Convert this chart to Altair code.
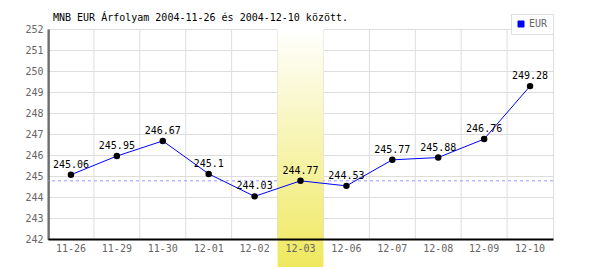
import altair as alt
import pandas as pd

dates = ["11-26", "11-29", "11-30", "12-01", "12-02", "12-03",
         "12-06", "12-07", "12-08", "12-09", "12-10"]
values = [245.06, 245.95, 246.67, 245.1, 244.03, 244.77,
          244.53, 245.77, 245.88, 246.76, 249.28]
highlight_date = "12-03"
ref_value = 244.77
y_ticks = list(range(242, 253))
title_text = "MNB EUR Árfolyam 2004-11-26 és 2004-12-10 között."
series_name = "EUR"

FONT = "DejaVu Sans Mono"

df = pd.DataFrame({"date": dates, "value": values, "series": series_name})
hl = pd.DataFrame({"date": [highlight_date]})
ref = pd.DataFrame({"v": [ref_value]})
tdf = pd.DataFrame({"t": [title_text]})

xscale = alt.Scale(type="band", domain=dates, paddingInner=0, paddingOuter=0)
yscale = alt.Scale(domain=[242, 252], nice=False, zero=False)

xaxis = alt.Axis(title=None, ticks=False, grid=False, domainColor="black",
                 domainWidth=2, labelColor="#666666", labelFont=FONT,
                 labelFontSize=10, labelPadding=4, labelAngle=0, zindex=1)
yaxis = alt.Axis(title=None, ticks=False, grid=True, gridColor="#dddddd",
                 domainColor="black", domainWidth=2, values=y_ticks,
                 labelColor="#666666", labelFont=FONT, labelFontSize=10,
                 labelPadding=5, zindex=0)

base = alt.Chart(df)

vgrid = base.mark_rule(color="#dddddd", strokeWidth=1).encode(
    x=alt.X("date:N", bandPosition=0, scale=xscale, axis=xaxis, sort=None),
    y=alt.value(0), y2=alt.value(210),
)

refline = alt.Chart(ref).mark_rule(color="#9999ff", strokeDash=[3, 3], strokeWidth=1).encode(
    y=alt.Y("v:Q", scale=yscale, axis=yaxis),
)

band = alt.Chart(hl).mark_rect(
    color=alt.Gradient(
        gradient="linear",
        stops=[alt.GradientStop(color="#ffffff", offset=0),
               alt.GradientStop(color="#efe85e", offset=1)],
        x1=0, x2=0, y1=0, y2=1,
    )
).encode(
    x=alt.X("date:N", scale=xscale, axis=xaxis, sort=None),
    y=alt.value(0), y2=alt.value(238),
)

line = base.mark_line(strokeWidth=1).encode(
    x=alt.X("date:N", scale=xscale, axis=xaxis, sort=None),
    y=alt.Y("value:Q", scale=yscale, axis=yaxis),
    color=alt.Color("series:N",
                    scale=alt.Scale(domain=[series_name], range=["#0000ff"]),
                    legend=alt.Legend(orient="none", legendX=463, legendY=-15,
                                      title=None, strokeColor="#dddddd",
                                      fillColor="white", padding=5,
                                      symbolType="square", symbolSize=36,
                                      symbolFillColor="#0000ff",
                                      symbolStrokeColor="#000066",
                                      symbolStrokeWidth=1,
                                      labelFont=FONT, labelFontSize=10,
                                      labelColor="#666666", labelOffset=3)),
)

points = base.mark_circle(color="black", opacity=1, size=42).encode(
    x=alt.X("date:N", scale=xscale, axis=xaxis, sort=None),
    y=alt.Y("value:Q", scale=yscale, axis=yaxis),
)

labels = base.mark_text(font=FONT, fontSize=10, color="black", baseline="alphabetic",
                        align="center", dy=-7).encode(
    x=alt.X("date:N", scale=xscale, axis=xaxis, sort=None),
    y=alt.Y("value:Q", scale=yscale, axis=yaxis),
    text="value:Q",
)

title = alt.Chart(tdf).mark_text(font=FONT, fontSize=10, color="black", align="left",
                                 baseline="alphabetic", x=5, y=-8).encode(text="t:N")

chart = alt.layer(vgrid, refline, band, line, points, labels, title).properties(
    width=505, height=210,
    autosize=alt.AutoSizeParams(type="none"),
    padding={"left": 48, "top": 29, "right": 47, "bottom": 31},
).configure_view(stroke="#dddddd", strokeWidth=1).configure(background="white")

chart.save("out.html", embed_options={"renderer": "svg", "actions": False})
